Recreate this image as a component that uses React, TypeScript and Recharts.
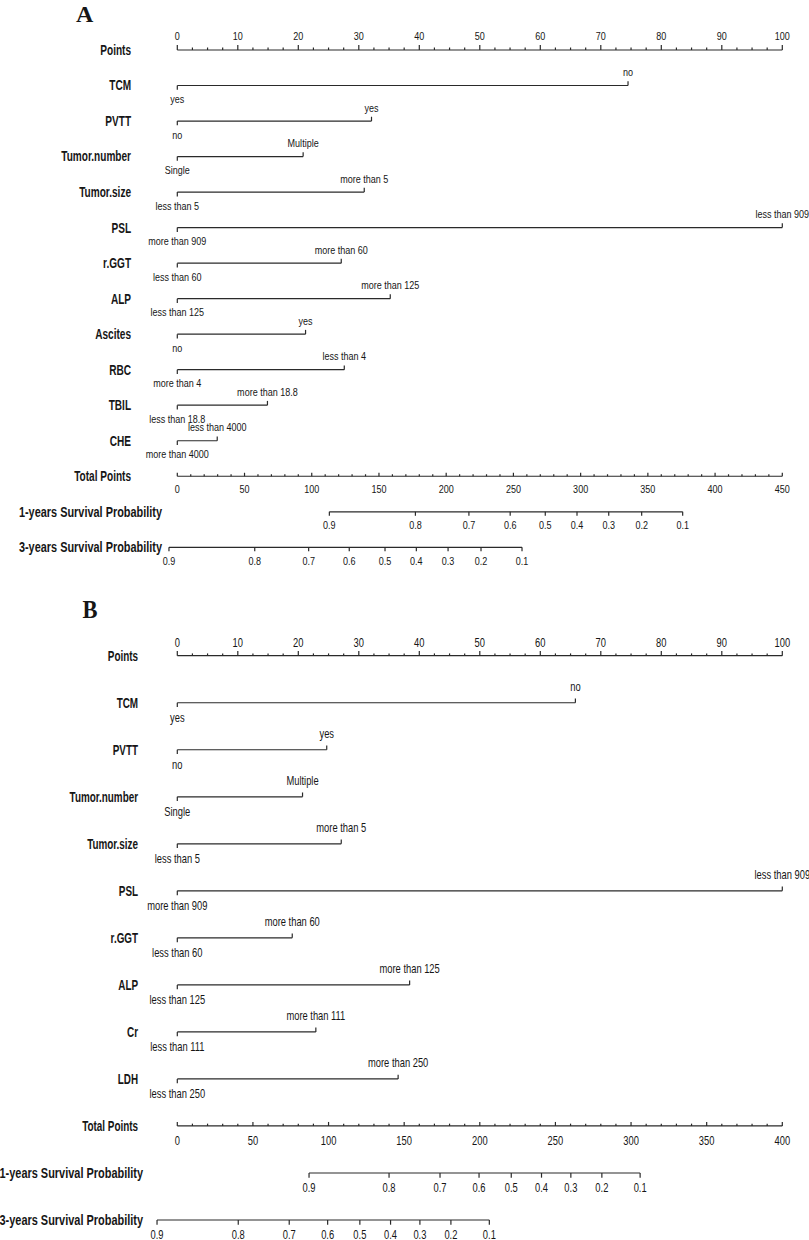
import React from 'react';
import { ComposedChart, Line, Scatter, XAxis, YAxis, Customized } from 'recharts';

const SANS = '"Liberation Sans", Arial, Helvetica, sans-serif';
const SERIF = '"Liberation Serif", "Times New Roman", serif';
const INK = '#161616';
const STROKE = '#2a2a2a';

// ---------------- shared scale labels ----------------
const pointsLabels = [0, 10, 20, 30, 40, 50, 60, 70, 80, 90, 100];
const pointsMinorStep = 2.5;
const totalMinorStep = 10;
const survivalLabels = ['0.9', '0.8', '0.7', '0.6', '0.5', '0.4', '0.3', '0.2', '0.1'];

// ---------------- Panel A ----------------
const variablesA = ['TCM', 'PVTT', 'Tumor.number', 'Tumor.size', 'PSL', 'r.GGT', 'ALP', 'Ascites', 'RBC', 'TBIL', 'CHE'];
const maxPointsA = [74.5, 32.1, 20.8, 30.9, 100, 27.1, 35.2, 21.2, 27.6, 14.9, 6.6];
const lowLevelsA = ['yes', 'no', 'Single', 'less than 5', 'more than 909', 'less than 60', 'less than 125', 'no', 'more than 4', 'less than 18.8', 'more than 4000'];
const highLevelsA = ['no', 'yes', 'Multiple', 'more than 5', 'less than 909', 'more than 60', 'more than 125', 'yes', 'less than 4', 'more than 18.8', 'less than 4000'];
const totalMaxA = 450;
const totalLabelsA = [0, 50, 100, 150, 200, 250, 300, 350, 400, 450];
const surv1yA = [113.1, 177.1, 216.9, 247.6, 273.7, 297.3, 320.9, 345.4, 375.9];
const surv3yA = [-6.2, 57.6, 97.7, 127.9, 154.5, 177.8, 201.4, 225.9, 256.4];

// ---------------- Panel B ----------------
const variablesB = ['TCM', 'PVTT', 'Tumor.number', 'Tumor.size', 'PSL', 'r.GGT', 'ALP', 'Cr', 'LDH'];
const maxPointsB = [65.8, 24.7, 20.7, 27.1, 100, 19.0, 38.4, 22.9, 36.5];
const lowLevelsB = ['yes', 'no', 'Single', 'less than 5', 'more than 909', 'less than 60', 'less than 125', 'less than 111', 'less than 250'];
const highLevelsB = ['no', 'yes', 'Multiple', 'more than 5', 'less than 909', 'more than 60', 'more than 125', 'more than 111', 'more than 250'];
const totalMaxB = 400;
const totalLabelsB = [0, 50, 100, 150, 200, 250, 300, 350, 400];
const surv1yB = [87.1, 140.0, 173.7, 199.5, 220.8, 240.8, 260.2, 280.7, 306.0];
const surv3yB = [-13.4, 40.3, 74.0, 99.4, 120.7, 141.0, 160.4, 180.9, 206.3];

type Style = {
  height: number; top: number; bottom: number;
  letterSize: number; letterSx: number; letterX: number; letterY: number;
  nameFont: number; nameSx: number; survSx: number; nameGap: number; survExtra: number;
  levelFont: number; levelSx: number; aboveDy: number; belowDy: number; endTick: number;
  ptsDy: number; ptsMajor: number; ptsMinor: number;
  totDy: number; totMajor: number; totMinor: number;
  survTick: number; survDy: number; lw: number;
};

const styleA: Style = {
  height: 590, top: 50, bottom: 42.7,
  letterSize: 24, letterSx: 1, letterX: 76, letterY: 21.7,
  nameFont: 14, nameSx: 0.72, survSx: 0.78, nameGap: 16, survExtra: 31,
  levelFont: 10.5, levelSx: 0.86, aboveDy: -9.5, belowDy: 17.5, endTick: 4.3,
  ptsDy: -10, ptsMajor: 5, ptsMinor: 2.5,
  totDy: 16.6, totMajor: 3.5, totMinor: 2,
  survTick: 4, survDy: 17.5, lw: 1.2,
};

const styleB: Style = {
  height: 650, top: 65.7, bottom: 20,
  letterSize: 25, letterSx: 0.9, letterX: 82.6, letterY: 28.3,
  nameFont: 15, nameSx: 0.66, survSx: 0.73, nameGap: 9, survExtra: 5,
  levelFont: 12, levelSx: 0.78, aboveDy: -11.5, belowDy: 19, endTick: 4.3,
  ptsDy: -9, ptsMajor: 4.7, ptsMinor: 2.3,
  totDy: 19.3, totMajor: 4, totMinor: 2.3,
  survTick: 4.7, survDy: 18.8, lw: 1.2,
};

function CText(props: { x: number; y: number; anchor?: string; size: number; weight?: string | number; sx?: number; family?: string; children: React.ReactNode }) {
  const { x, y, anchor = 'middle', size, weight = 'normal', sx = 1, family = SANS, children } = props;
  return (
    <text
      transform={`translate(${x},${y}) scale(${sx},1)`}
      x={0}
      y={0}
      textAnchor={anchor as any}
      fontSize={size}
      fontWeight={weight as any}
      fontFamily={family}
      fill={INK}
    >
      {children}
    </text>
  );
}

function scaleTicks(max: number, step: number, labels: number[], row: number) {
  const out: { x: number; y: number; label: string; major: boolean }[] = [];
  const n = Math.round(max / step);
  for (let i = 0; i <= n; i++) {
    const v = i * step;
    const major = labels.some((l) => Math.abs(l - v) < 1e-9);
    out.push({ x: v, y: row, label: major ? String(v) : '', major });
  }
  return out;
}

type PanelProps = {
  letter: string;
  variables: string[];
  maxPoints: number[];
  lowLevels: string[];
  highLevels: string[];
  totalMax: number;
  totalLabels: number[];
  surv1: number[];
  surv3: number[];
  st: Style;
};

function Panel(p: PanelProps) {
  const { letter, variables, maxPoints, lowLevels, highLevels, totalMax, totalLabels, surv1, surv3, st } = p;
  const rowNames = ['Points', ...variables, 'Total Points', '1-years Survival Probability', '3-years Survival Probability'];
  const nRows = rowNames.length;
  const rows = rowNames.map((_, i) => i);
  const totalRow = variables.length + 1;
  const s1Row = totalRow + 1;
  const s3Row = totalRow + 2;
  const totalMin = (-5 * totalMax) / 100;

  const ptsTicks = scaleTicks(100, pointsMinorStep, pointsLabels, 0);
  const totTicks = scaleTicks(totalMax, totalMinorStep, totalLabels, totalRow);
  const s1Ticks = surv1.map((x, i) => ({ x, y: s1Row, label: survivalLabels[i], major: true }));
  const s3Ticks = surv3.map((x, i) => ({ x, y: s3Row, label: survivalLabels[i], major: true }));

  const nameTick = (tp: any) => {
    const idx = tp.payload.value as number;
    const isSurv = idx === s1Row || idx === s3Row;
    const x = tp.x - st.nameGap + (isSurv ? st.survExtra : 0);
    return (
      <CText key={`name-${idx}`} x={x} y={tp.y + st.nameFont * 0.35} anchor="end" size={st.nameFont} weight="bold" sx={isSurv ? st.survSx : st.nameSx}>
        {rowNames[idx]}
      </CText>
    );
  };

  const endDot = (dp: any) => {
    const { cx, cy, payload, index } = dp;
    const up = payload.pos === 'above';
    return (
      <g key={`end-${index}-${payload.label}`}>
        <line x1={cx} x2={cx} y1={cy} y2={up ? cy - st.endTick : cy + st.endTick} stroke={STROKE} strokeWidth={st.lw} />
        <CText x={cx} y={cy + (up ? st.aboveDy : st.belowDy)} size={st.levelFont} sx={st.levelSx}>
          {payload.label}
        </CText>
      </g>
    );
  };

  const ptsShape = (sp: any) => {
    const { cx, cy, payload } = sp;
    const len = payload.major ? st.ptsMajor : st.ptsMinor;
    return (
      <g>
        <line x1={cx} x2={cx} y1={cy} y2={cy - len} stroke={STROKE} strokeWidth={st.lw} />
        {payload.label ? (
          <CText x={cx} y={cy + st.ptsDy} size={st.levelFont} sx={st.levelSx}>{payload.label}</CText>
        ) : null}
      </g>
    );
  };

  const totShape = (sp: any) => {
    const { cx, cy, payload } = sp;
    const len = payload.major ? st.totMajor : st.totMinor;
    return (
      <g>
        <line x1={cx} x2={cx} y1={cy} y2={cy - len} stroke={STROKE} strokeWidth={st.lw} />
        {payload.label ? (
          <CText x={cx} y={cy + st.totDy} size={st.levelFont} sx={st.levelSx}>{payload.label}</CText>
        ) : null}
      </g>
    );
  };

  const survShape = (sp: any) => {
    const { cx, cy, payload } = sp;
    return (
      <g>
        <line x1={cx} x2={cx} y1={cy} y2={cy + st.survTick} stroke={STROKE} strokeWidth={st.lw} />
        <CText x={cx} y={cy + st.survDy} size={st.levelFont} sx={st.levelSx}>{payload.label}</CText>
      </g>
    );
  };

  const Letter = () => (
    <CText x={st.letterX} y={st.letterY} anchor="start" size={st.letterSize} weight="bold" sx={st.letterSx} family={SERIF}>
      {letter}
    </CText>
  );

  return (
    <ComposedChart width={809} height={st.height} margin={{ top: st.top, right: 26.7, bottom: st.bottom, left: 0 }}>
      <XAxis xAxisId="pts" type="number" dataKey="x" domain={[-5, 100]} hide />
      <XAxis xAxisId="tot" type="number" dataKey="x" domain={[totalMin, totalMax]} hide />
      <YAxis
        type="number"
        dataKey="y"
        domain={[0, nRows - 1]}
        reversed
        ticks={rows}
        interval={0}
        width={147.05}
        axisLine={false}
        tickLine={false}
        tickSize={0}
        tickMargin={0}
        tick={nameTick}
      />
      <Customized component={Letter} />

      {/* Points scale */}
      <Line data={[{ x: 0, y: 0 }, { x: 100, y: 0 }]} dataKey="y" xAxisId="pts" stroke={STROKE} strokeWidth={st.lw} dot={false} activeDot={false} isAnimationActive={false} />
      <Scatter data={ptsTicks} dataKey="y" xAxisId="pts" shape={ptsShape} isAnimationActive={false} />

      {/* Variables */}
      {variables.map((v, i) => {
        const row = i + 1;
        const data = [
          { x: 0, y: row, label: lowLevels[i], pos: 'below' },
          { x: maxPoints[i], y: row, label: highLevels[i], pos: 'above' },
        ];
        return (
          <Line key={`var-${v}-${i}`} data={data} dataKey="y" xAxisId="pts" stroke={STROKE} strokeWidth={st.lw} dot={endDot} activeDot={false} isAnimationActive={false} />
        );
      })}

      {/* Total points */}
      <Line data={[{ x: 0, y: totalRow }, { x: totalMax, y: totalRow }]} dataKey="y" xAxisId="tot" stroke={STROKE} strokeWidth={st.lw} dot={false} activeDot={false} isAnimationActive={false} />
      <Scatter data={totTicks} dataKey="y" xAxisId="tot" shape={totShape} isAnimationActive={false} />

      {/* Survival probabilities */}
      <Line data={[{ x: surv1[0], y: s1Row }, { x: surv1[surv1.length - 1], y: s1Row }]} dataKey="y" xAxisId="tot" stroke={STROKE} strokeWidth={st.lw} dot={false} activeDot={false} isAnimationActive={false} />
      <Scatter data={s1Ticks} dataKey="y" xAxisId="tot" shape={survShape} isAnimationActive={false} />
      <Line data={[{ x: surv3[0], y: s3Row }, { x: surv3[surv3.length - 1], y: s3Row }]} dataKey="y" xAxisId="tot" stroke={STROKE} strokeWidth={st.lw} dot={false} activeDot={false} isAnimationActive={false} />
      <Scatter data={s3Ticks} dataKey="y" xAxisId="tot" shape={survShape} isAnimationActive={false} />
    </ComposedChart>
  );
}

export default function App() {
  return (
    <div style={{ width: 809, height: 1240, background: '#fff', overflow: 'hidden' }}>
      <style>{'html,body{margin:0;padding:0;overflow:hidden;background:#fff}'}</style>
      <Panel
        letter="A"
        variables={variablesA}
        maxPoints={maxPointsA}
        lowLevels={lowLevelsA}
        highLevels={highLevelsA}
        totalMax={totalMaxA}
        totalLabels={totalLabelsA}
        surv1={surv1yA}
        surv3={surv3yA}
        st={styleA}
      />
      <Panel
        letter="B"
        variables={variablesB}
        maxPoints={maxPointsB}
        lowLevels={lowLevelsB}
        highLevels={highLevelsB}
        totalMax={totalMaxB}
        totalLabels={totalLabelsB}
        surv1={surv1yB}
        surv3={surv3yB}
        st={styleB}
      />
    </div>
  );
}
